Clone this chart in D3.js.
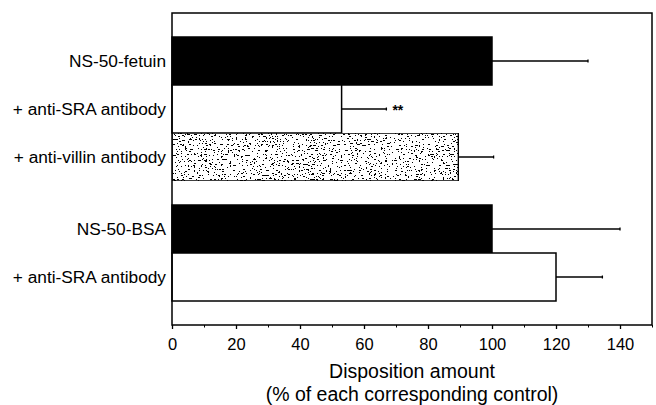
<!DOCTYPE html>
<html>
<head>
<meta charset="utf-8">
<script src="https://cdn.jsdelivr.net/npm/d3@7"></script>
<style>
  body { margin: 0; background: #fff; }
  svg { display: block; font-family: Arial, "Liberation Sans", Helvetica, sans-serif; }
</style>
</head>
<body>
<div id="chart"></div>
<script>
// Chart values.
var categories = ["NS-50-fetuin", "+ anti-SRA antibody", "+ anti-villin antibody", "NS-50-BSA", "+ anti-SRA antibody"];
var groups = [0, 0, 0, 1, 1];
var values = [100, 53, 89.5, 100, 120];
var errors = [30, 14, 11, 40, 14.5];
var marks = ["", "**", "", "", ""];
var xTicks = [0, 20, 40, 60, 80, 100, 120, 140];
var xMinorTicks = [10, 30, 50, 70, 90, 110, 130, 150];
var xTitle = ["Disposition amount", "(% of each corresponding control)"];

var width = 656, height = 405;
var margin = {top: 13, right: 4, bottom: 80, left: 172};
var innerW = width - margin.left - margin.right;
var innerH = height - margin.top - margin.bottom;
var groupGap = 24;

var rows = categories.map(function(c, i){
  return {id: i, label: c, group: groups[i], value: values[i], err: errors[i], mark: marks[i]};
});

// Fill per bar: control black, antibody blank, villin speckled.
var barFill = ["#000", "#fff", "#fff", "#000", "#fff"];
var barFilter = [null, null, "url(#speckle)", null, null];

var svg = d3.select("#chart").append("svg")
  .attr("width", width)
  .attr("height", height);

// Speckled texture for the anti-villin bar (short horizontal-ish flecks).
var defs = svg.append("defs");
var f = defs.append("filter").attr("id", "speckle")
  .attr("x", 0).attr("y", 0).attr("width", 1).attr("height", 1);
f.append("feTurbulence")
  .attr("type", "fractalNoise").attr("baseFrequency", "0.45 0.8")
  .attr("numOctaves", 3).attr("seed", 11).attr("result", "noise");
f.append("feColorMatrix").attr("in", "noise").attr("type", "matrix")
  .attr("values", "0 0 0 0 0  0 0 0 0 0  0 0 0 0 0  1 0 0 0 0")
  .attr("result", "noiseA");
var ct = f.append("feComponentTransfer").attr("in", "noiseA").attr("result", "dots");
ct.append("feFuncA").attr("type", "discrete")
  .attr("tableValues", "0 0 0 0 0 0 0 0 0 0 0 0 0 1 1 1 1 1 1 1");
f.append("feFlood").attr("flood-color", "#000").attr("result", "ink");
f.append("feComposite").attr("in", "ink").attr("in2", "dots").attr("operator", "in").attr("result", "inkDots");
var merge = f.append("feMerge");
merge.append("feMergeNode").attr("in", "SourceGraphic");
merge.append("feMergeNode").attr("in", "inkDots");

var g = svg.append("g")
  .attr("transform", "translate(" + margin.left + "," + margin.top + ")");

var x = d3.scaleLinear().domain([0, 150]).range([0, innerW]);

var y = d3.scaleBand()
  .domain(rows.map(function(d){ return d.id; }))
  .range([0, innerH - groupGap])
  .paddingInner(0)
  .paddingOuter(0.5);

var yPos = function(d){ return y(d.id) + d.group * groupGap; };

// Bars.
g.selectAll(".bar")
  .data(rows)
  .enter().append("rect")
  .attr("class", "bar")
  .attr("x", x(0))
  .attr("y", yPos)
  .attr("width", function(d){ return x(d.value) - x(0); })
  .attr("height", y.bandwidth())
  .style("fill", function(d, i){ return barFill[i]; })
  .attr("filter", function(d, i){ return barFilter[i]; })
  .style("stroke", "#000")
  .style("stroke-width", 1.5);

// One-sided error bars.
var eb = g.selectAll(".err")
  .data(rows)
  .enter().append("g")
  .attr("class", "err");

eb.append("line")
  .attr("x1", function(d){ return x(d.value); })
  .attr("x2", function(d){ return x(d.value + d.err); })
  .attr("y1", function(d){ return yPos(d) + y.bandwidth() / 2; })
  .attr("y2", function(d){ return yPos(d) + y.bandwidth() / 2; })
  .style("stroke", "#000")
  .style("stroke-width", 1.3);

eb.append("line")
  .attr("x1", function(d){ return x(d.value + d.err); })
  .attr("x2", function(d){ return x(d.value + d.err); })
  .attr("y1", function(d){ return yPos(d) + y.bandwidth() / 2 - 1.5; })
  .attr("y2", function(d){ return yPos(d) + y.bandwidth() / 2 + 1.5; })
  .style("stroke", "#000")
  .style("stroke-width", 1.3);

// Significance marks.
g.selectAll(".sig")
  .data(rows.filter(function(d){ return d.mark; }))
  .enter().append("text")
  .attr("class", "sig")
  .attr("x", function(d){ return x(d.value + d.err) + 6; })
  .attr("y", function(d){ return yPos(d) + y.bandwidth() / 2 + 6; })
  .style("font-size", "14px")
  .style("font-weight", "bold")
  .text(function(d){ return d.mark; });

// Category labels.
g.selectAll(".cat")
  .data(rows)
  .enter().append("text")
  .attr("class", "cat")
  .attr("x", -6)
  .attr("y", function(d){ return yPos(d) + y.bandwidth() / 2; })
  .attr("dy", "0.35em")
  .attr("text-anchor", "end")
  .style("font-size", "17.3px")
  .text(function(d){ return d.label; });

// Plot frame.
g.append("rect")
  .attr("width", innerW)
  .attr("height", innerH)
  .style("fill", "none")
  .style("stroke", "#000")
  .style("stroke-width", 1.5);

// X axis, major and minor ticks.
var xAxis = g.append("g")
  .attr("transform", "translate(0," + innerH + ")")
  .call(d3.axisBottom(x).tickValues(xTicks).tickSizeInner(4).tickSizeOuter(0).tickPadding(9));
xAxis.select(".domain").remove();
xAxis.selectAll("line").style("stroke-width", 1.3);
xAxis.selectAll("text").style("font-size", "16.5px").style("fill", "#000");

var xMinor = g.append("g")
  .attr("transform", "translate(0," + innerH + ")")
  .call(d3.axisBottom(x).tickValues(xMinorTicks).tickSizeInner(2.5).tickSizeOuter(0).tickFormat(""));
xMinor.select(".domain").remove();

// Axis title.
g.selectAll(".xtitle")
  .data(xTitle)
  .enter().append("text")
  .attr("class", "xtitle")
  .attr("x", innerW / 2)
  .attr("y", function(d, i){ return innerH + 53 + i * 23; })
  .attr("text-anchor", "middle")
  .style("font-size", "19.5px")
  .text(function(d){ return d; });
</script>
</body>
</html>
